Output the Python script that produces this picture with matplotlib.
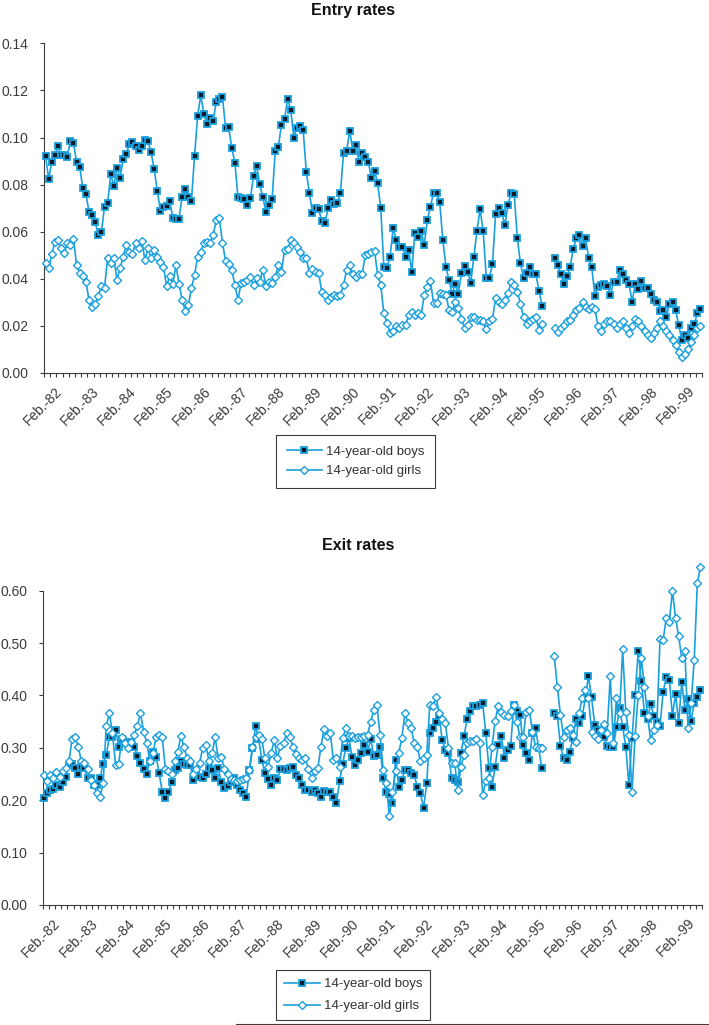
import numpy as np
import matplotlib.pyplot as plt
import matplotlib.transforms as mtransforms
from matplotlib.lines import Line2D

plt.rcParams['font.family'] = ['Liberation Sans', 'DejaVu Sans']

# monthly observations from Feb. 1982, None = no data (summer 1995)
entry_boys = [
    0.0923, 0.0824, 0.0894, 0.0924, 0.0965, 0.0924, 0.0924, 0.0918, 0.0984, 0.0975,
    0.0897, 0.0876, 0.0784, 0.0760, 0.0685, 0.0670, 0.0642, 0.0584, 0.0598, 0.0706,
    0.0720, 0.0845, 0.0794, 0.0872, 0.0826, 0.0910, 0.0930, 0.0972, 0.0982, 0.0964,
    0.0947, 0.0965, 0.0989, 0.0985, 0.0937, 0.0866, 0.0774, 0.0688, 0.0706, 0.0710,
    0.0731, 0.0659, 0.0652, 0.0656, 0.0748, 0.0782, 0.0748, 0.0731, 0.0921, 0.1091,
    0.1180, 0.1100, 0.1057, 0.1081, 0.1071, 0.1152, 0.1163, 0.1171, 0.1042, 0.1044,
    0.0955, 0.0893, 0.0746, 0.0741, 0.0737, 0.0713, 0.0741, 0.0836, 0.0880, 0.0802,
    0.0748, 0.0683, 0.0713, 0.0737, 0.0944, 0.0961, 0.1053, 0.1078, 0.1165, 0.1117,
    0.1000, 0.1039, 0.1049, 0.1032, 0.0855, 0.0765, 0.0680, 0.0702, 0.0695, 0.0645,
    0.0635, 0.0699, 0.0734, 0.0717, 0.0720, 0.0765, 0.0933, 0.0944, 0.1029, 0.0944,
    0.0968, 0.0897, 0.0933, 0.0918, 0.0897, 0.0826, 0.0859, 0.0805, 0.0699, 0.0451,
    0.0447, 0.0494, 0.0617, 0.0564, 0.0536, 0.0533, 0.0494, 0.0522, 0.0430, 0.0596,
    0.0579, 0.0603, 0.0543, 0.0650, 0.0706, 0.0765, 0.0765, 0.0725, 0.0564, 0.0451,
    0.0394, 0.0335, 0.0380, 0.0335, 0.0426, 0.0454, 0.0430, 0.0383, 0.0494, 0.0604,
    0.0697, 0.0601, 0.0404, 0.0404, 0.0463, 0.0675, 0.0700, 0.0678, 0.0629, 0.0714,
    0.0766, 0.0760, 0.0572, 0.0466, 0.0404, 0.0426, 0.0451, 0.0419, 0.0419, 0.0348,
    0.0285, None, None, None, 0.0487, 0.0458, 0.0420, 0.0377, 0.0411, 0.0451,
    0.0525, 0.0572, 0.0586, 0.0539, 0.0572, 0.0487, 0.0448, 0.0326, 0.0366, 0.0373,
    0.0380, 0.0369, 0.0331, 0.0387, 0.0387, 0.0437, 0.0420, 0.0397, 0.0377, 0.0302,
    0.0380, 0.0355, 0.0390, 0.0363, 0.0363, 0.0335, 0.0309, 0.0302, 0.0264, 0.0267,
    0.0238, 0.0292, 0.0302, 0.0267, 0.0203, 0.0140, 0.0160, 0.0150, 0.0189, 0.0207,
    0.0253, 0.0270]

entry_girls = [
    0.0465, 0.0444, 0.0505, 0.0555, 0.0565, 0.0529, 0.0508, 0.0550, 0.0543, 0.0569,
    0.0458, 0.0426, 0.0412, 0.0388, 0.0310, 0.0279, 0.0293, 0.0327, 0.0369, 0.0363,
    0.0487, 0.0468, 0.0487, 0.0397, 0.0444, 0.0494, 0.0543, 0.0515, 0.0505, 0.0553,
    0.0529, 0.0562, 0.0480, 0.0529, 0.0487, 0.0522, 0.0494, 0.0473, 0.0451, 0.0369,
    0.0412, 0.0378, 0.0458, 0.0380, 0.0310, 0.0264, 0.0288, 0.0359, 0.0416, 0.0494,
    0.0515, 0.0553, 0.0555, 0.0553, 0.0586, 0.0650, 0.0657, 0.0553, 0.0475, 0.0463,
    0.0437, 0.0373, 0.0310, 0.0383, 0.0388, 0.0395, 0.0409, 0.0373, 0.0402, 0.0388,
    0.0437, 0.0369, 0.0388, 0.0383, 0.0406, 0.0458, 0.0430, 0.0522, 0.0525, 0.0565,
    0.0550, 0.0533, 0.0515, 0.0487, 0.0487, 0.0423, 0.0440, 0.0430, 0.0423, 0.0345,
    0.0331, 0.0310, 0.0324, 0.0331, 0.0328, 0.0331, 0.0373, 0.0437, 0.0458, 0.0420,
    0.0406, 0.0420, 0.0420, 0.0501, 0.0505, 0.0512, 0.0519, 0.0416, 0.0373, 0.0253,
    0.0213, 0.0170, 0.0180, 0.0200, 0.0190, 0.0203, 0.0203, 0.0246, 0.0260, 0.0246,
    0.0253, 0.0245, 0.0331, 0.0364, 0.0390, 0.0299, 0.0298, 0.0340, 0.0336, 0.0333,
    0.0267, 0.0260, 0.0302, 0.0275, 0.0231, 0.0191, 0.0203, 0.0236, 0.0236, 0.0224,
    0.0224, 0.0221, 0.0185, 0.0221, 0.0231, 0.0317, 0.0302, 0.0292, 0.0309, 0.0338,
    0.0387, 0.0373, 0.0345, 0.0295, 0.0236, 0.0210, 0.0221, 0.0231, 0.0236, 0.0182,
    0.0210, None, None, None, 0.0189, 0.0174, 0.0189, 0.0203, 0.0221, 0.0227,
    0.0245, 0.0267, 0.0274, 0.0302, 0.0280, 0.0270, 0.0280, 0.0270, 0.0200, 0.0180,
    0.0210, 0.0220, 0.0220, 0.0210, 0.0190, 0.0210, 0.0220, 0.0190, 0.0170, 0.0200,
    0.0230, 0.0220, 0.0200, 0.0180, 0.0160, 0.0150, 0.0170, 0.0190, 0.0220, 0.0200,
    0.0180, 0.0160, 0.0140, 0.0120, 0.0090, 0.0070, 0.0080, 0.0100, 0.0130, 0.0160,
    0.0190, 0.0200]

exit_boys = [
    0.205, 0.213, 0.220, 0.221, 0.229, 0.226, 0.235, 0.245, 0.267, 0.270,
    0.261, 0.250, 0.264, 0.261, 0.242, 0.242, 0.229, 0.230, 0.242, 0.270,
    0.287, 0.320, 0.320, 0.335, 0.302, 0.316, 0.310, 0.312, 0.309, 0.302,
    0.285, 0.272, 0.259, 0.251, 0.274, 0.293, 0.283, 0.252, 0.216, 0.205,
    0.216, 0.235, 0.257, 0.261, 0.274, 0.270, 0.267, 0.267, 0.239, 0.248,
    0.245, 0.242, 0.250, 0.261, 0.257, 0.242, 0.261, 0.234, 0.223, 0.228,
    0.235, 0.242, 0.229, 0.220, 0.213, 0.207, 0.257, 0.300, 0.341, 0.317,
    0.277, 0.252, 0.240, 0.229, 0.242, 0.239, 0.259, 0.259, 0.258, 0.261,
    0.264, 0.248, 0.242, 0.230, 0.220, 0.220, 0.215, 0.220, 0.213, 0.207,
    0.218, 0.216, 0.216, 0.207, 0.195, 0.236, 0.270, 0.300, 0.318, 0.283,
    0.267, 0.277, 0.290, 0.306, 0.293, 0.317, 0.285, 0.287, 0.302, 0.242,
    0.216, 0.211, 0.195, 0.277, 0.226, 0.239, 0.258, 0.257, 0.252, 0.248,
    0.225, 0.213, 0.185, 0.232, 0.328, 0.338, 0.350, 0.360, 0.315, 0.296,
    0.290, 0.242, 0.238, 0.234, 0.290, 0.322, 0.356, 0.370, 0.380, 0.380,
    0.382, 0.385, 0.328, 0.261, 0.226, 0.264, 0.306, 0.323, 0.280, 0.295,
    0.304, 0.382, 0.370, 0.363, 0.306, 0.290, 0.276, 0.329, 0.338, 0.300,
    0.261, None, None, None, 0.366, 0.361, 0.304, 0.280, 0.277, 0.293,
    0.318, 0.355, 0.347, 0.360, 0.395, 0.437, 0.397, 0.344, 0.335, 0.329,
    0.320, 0.304, 0.302, 0.302, 0.339, 0.376, 0.340, 0.302, 0.229, 0.318,
    0.401, 0.484, 0.427, 0.367, 0.356, 0.384, 0.361, 0.350, 0.341, 0.406,
    0.435, 0.430, 0.361, 0.403, 0.348, 0.425, 0.372, 0.393, 0.352, 0.386,
    0.397, 0.411]

exit_girls = [
    0.248, 0.236, 0.248, 0.242, 0.253, 0.245, 0.255, 0.262, 0.274, 0.316,
    0.320, 0.302, 0.274, 0.272, 0.260, 0.239, 0.229, 0.213, 0.207, 0.232,
    0.342, 0.366, 0.328, 0.267, 0.270, 0.320, 0.310, 0.299, 0.312, 0.325,
    0.342, 0.367, 0.331, 0.310, 0.274, 0.290, 0.320, 0.325, 0.320, 0.259,
    0.255, 0.250, 0.274, 0.293, 0.323, 0.301, 0.280, 0.274, 0.250, 0.260,
    0.272, 0.300, 0.306, 0.275, 0.290, 0.320, 0.280, 0.282, 0.260, 0.250,
    0.240, 0.239, 0.237, 0.239, 0.240, 0.242, 0.257, 0.302, 0.320, 0.325,
    0.317, 0.280, 0.264, 0.290, 0.315, 0.280, 0.304, 0.310, 0.328, 0.320,
    0.302, 0.288, 0.280, 0.276, 0.280, 0.260, 0.242, 0.255, 0.261, 0.302,
    0.336, 0.322, 0.328, 0.277, 0.280, 0.264, 0.318, 0.338, 0.322, 0.322,
    0.318, 0.320, 0.320, 0.323, 0.325, 0.350, 0.372, 0.382, 0.325, 0.258,
    0.232, 0.170, 0.215, 0.255, 0.290, 0.318, 0.366, 0.347, 0.338, 0.309,
    0.302, 0.274, 0.280, 0.287, 0.382, 0.379, 0.397, 0.366, 0.355, 0.347,
    0.300, 0.271, 0.271, 0.220, 0.264, 0.287, 0.309, 0.313, 0.314, 0.317,
    0.309, 0.210, 0.236, 0.242, 0.302, 0.352, 0.380, 0.369, 0.363, 0.360,
    0.370, 0.382, 0.350, 0.320, 0.320, 0.369, 0.372, 0.331, 0.302, 0.299,
    0.300, None, None, None, 0.476, 0.416, 0.363, 0.320, 0.334, 0.338,
    0.325, 0.312, 0.366, 0.395, 0.411, 0.395, 0.331, 0.322, 0.317, 0.334,
    0.346, 0.328, 0.437, 0.309, 0.395, 0.366, 0.488, 0.369, 0.325, 0.216,
    0.323, 0.401, 0.471, 0.417, 0.360, 0.315, 0.334, 0.344, 0.508, 0.505,
    0.548, 0.541, 0.600, 0.548, 0.513, 0.471, 0.484, 0.338, 0.385, 0.468,
    0.614, 0.646]

year_labels = ['Feb.-82', 'Feb.-83', 'Feb.-84', 'Feb.-85', 'Feb.-86', 'Feb.-87',
               'Feb.-88', 'Feb.-89', 'Feb.-90', 'Feb.-91', 'Feb.-92', 'Feb.-93',
               'Feb.-94', 'Feb.-95', 'Feb.-96', 'Feb.-97', 'Feb.-98', 'Feb.-99']

LINE = '#1aa0dd'
DARK = '#0c1c2a'
GREY = '#3c3c3c'

W, H = 709, 1025
fig = plt.figure(figsize=(W / 100, H / 100), dpi=100, facecolor='w')


def px_box(left, top, right, bottom):
    return [left / W, 1 - bottom / H, (right - left) / W, (bottom - top) / H]


def draw_panel(ax, boys, girls, ymax, ystep, title, title_xy, legend_top, lspace, bpad):
    n = len(boys)
    x = np.arange(n)
    b = np.array(boys, dtype=float)
    g = np.array(girls, dtype=float)
    ax.plot(x, b, color=LINE, lw=1.2, marker='s', ms=4.4, mfc=DARK, mec=LINE, mew=1.3,
            label='14-year-old boys', clip_on=False, zorder=3)
    ax.plot(x, g, color=LINE, lw=1.2, marker='D', ms=3.7, mfc='white', mec=LINE, mew=1.0,
            label='14-year-old girls', clip_on=False, zorder=4)

    ax.set_xlim(-0.5, n - 0.5)
    ax.set_ylim(0, ymax)
    yt = np.arange(0, ymax + ystep / 2, ystep)
    ax.set_yticks(yt, ['%.2f' % v for v in yt])
    ax.tick_params(axis='y', direction='out', length=3, width=0.8, color=GREY,
                   labelsize=10, labelcolor=GREY, pad=8)

    ax.set_xticks(np.arange(0, n, 12), year_labels, rotation=45, ha='right',
                  va='top', rotation_mode='anchor')
    ax.set_xticks(np.arange(-0.5, n, 2), minor=True)
    ax.tick_params(axis='x', which='major', length=0, labelsize=10, labelcolor=GREY, pad=8)
    ax.tick_params(axis='x', which='minor', direction='out', length=2.6, width=0.8, color=GREY)
    shift = mtransforms.ScaledTranslation(9 / 100, 0, fig.dpi_scale_trans)
    for lab in ax.get_xticklabels():
        lab.set_transform(lab.get_transform() + shift)

    for s in ['top', 'right']:
        ax.spines[s].set_visible(False)
    for s in ['left', 'bottom']:
        ax.spines[s].set_color(GREY)
        ax.spines[s].set_linewidth(0.8)

    fig.text(title_xy[0] / W, 1 - title_xy[1] / H, title, ha='center', va='center',
             fontsize=11.5, fontweight='bold', color='#111111')

    leg = ax.legend(loc='upper left', bbox_to_anchor=(276 / W, 1 - legend_top / H),
                    bbox_transform=fig.transFigure, borderaxespad=0, fontsize=9.5,
                    frameon=True, fancybox=False, edgecolor=GREY, framealpha=1,
                    borderpad=bpad, labelspacing=lspace, handlelength=2.7,
                    handletextpad=0.3, numpoints=1)
    leg.get_frame().set_linewidth(0.8)
    for t in leg.get_texts():
        t.set_color('#333333')


ax1 = fig.add_axes(px_box(44, 43.3, 702, 373))
draw_panel(ax1, entry_boys, entry_girls, 0.14, 0.02, 'Entry rates', (353, 11), 435, 0.55, 0.8)

ax2 = fig.add_axes(px_box(42.5, 590.7, 702, 905))
draw_panel(ax2, exit_boys, exit_girls, 0.60, 0.10, 'Exit rates', (358, 545), 970, 0.75, 0.6)

fig.add_artist(Line2D([236 / W, 1.0], [1 - 1023.5 / H, 1 - 1023.5 / H],
                      transform=fig.transFigure, color='#4a3838', lw=0.8))

fig.savefig('out.png', dpi=100, facecolor='w')
